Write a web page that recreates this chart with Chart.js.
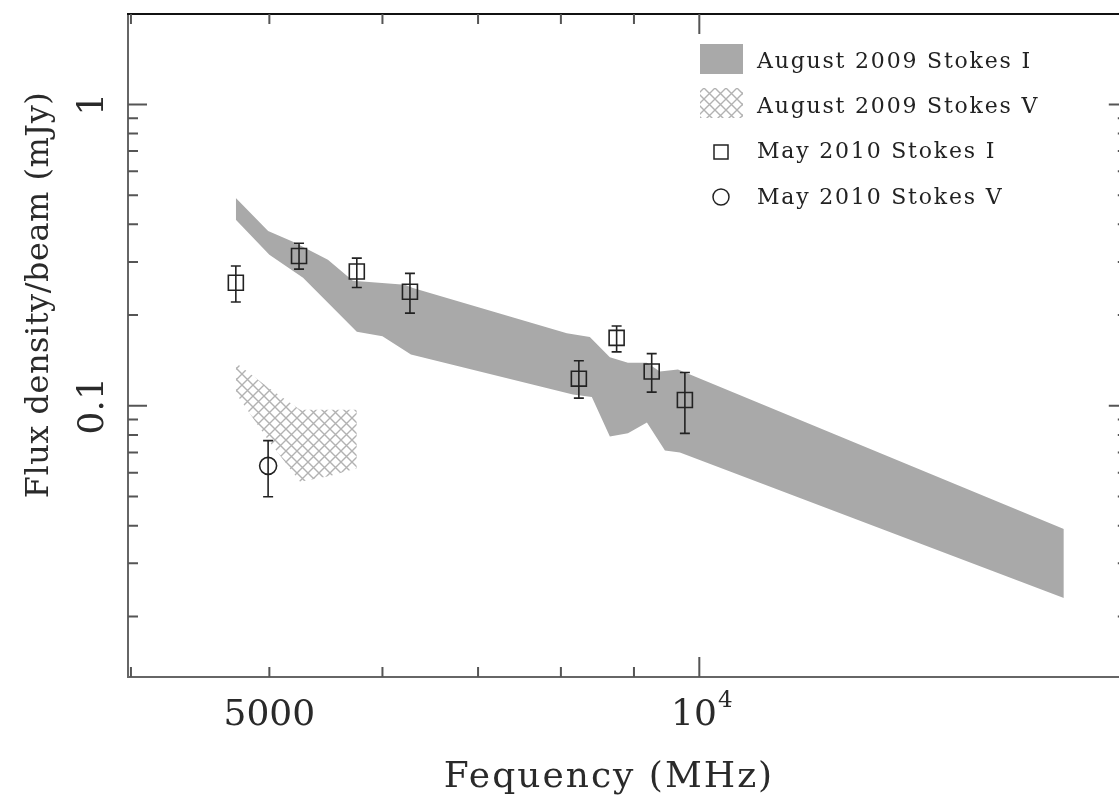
<!DOCTYPE html>
<html>
<head>
<meta charset="utf-8">
<script src="https://cdn.jsdelivr.net/npm/chart.js@4.4.0/dist/chart.umd.min.js"></script>
<style>
  html, body { margin: 0; padding: 0; background: #fff; overflow: hidden; }
  #wrap { width: 1119px; height: 810px; overflow: hidden; }
</style>
</head>
<body>
<div id="wrap"><canvas id="sed" width="1140" height="810"></canvas></div>
<script>
// frequency in MHz, flux density in mJy/beam

// August 2009 Stokes I band (upper and lower edge)
const bandUpperFreq = [4737, 4990, 5194, 5495, 5720, 6221, 6302, 8077, 8382, 8657, 8913, 9190, 9384, 9661, 17997];
const bandUpperFlux = [0.489, 0.380, 0.350, 0.305, 0.260, 0.252, 0.246, 0.174, 0.169, 0.145, 0.139, 0.139, 0.130, 0.132, 0.039];
const bandLowerFreq = [4737, 5000, 5279, 5757, 6000, 6282, 8156, 8409, 8657, 8913, 9190, 9461, 9692, 17997];
const bandLowerFlux = [0.414, 0.317, 0.266, 0.176, 0.170, 0.148, 0.109, 0.107, 0.079, 0.081, 0.088, 0.071, 0.070, 0.023];

// August 2009 Stokes V region
const hatchUpperFreq = [4737, 4990, 5254, 5757];
const hatchUpperFlux = [0.139, 0.115, 0.097, 0.097];
const hatchLowerFreq = [4737, 4990, 5254, 5512, 5757];
const hatchLowerFlux = [0.110, 0.077, 0.056, 0.0585, 0.062];

// May 2010 Stokes I
const mayIFreq = [4737, 5245, 5757, 6272, 8235, 8752, 9261, 9770];
const mayIFlux = [0.256, 0.314, 0.279, 0.239, 0.123, 0.168, 0.130, 0.1045];
const mayIHigh = [0.291, 0.346, 0.309, 0.275, 0.141, 0.184, 0.149, 0.129];
const mayILow = [0.221, 0.284, 0.247, 0.203, 0.106, 0.151, 0.111, 0.081];

// May 2010 Stokes V
const mayVFreq = [4990];
const mayVFlux = [0.0632];
const mayVHigh = [0.0766];
const mayVLow = [0.0499];

const legendLabels = ["August 2009 Stokes I", "August 2009 Stokes V", "May 2010 Stokes I", "May 2010 Stokes V"];

const xMinorTicks = [4000, 5000, 6000, 7000, 8000, 9000];
const xMajorTicks = [10000];
const yMajorTicks = [0.1, 1];
const yMinorTicks = [0.02, 0.03, 0.04, 0.05, 0.06, 0.07, 0.08, 0.09, 0.2, 0.3, 0.4, 0.5, 0.6, 0.7, 0.8, 0.9];
const xTickLabels = [[5000, "5000"], [10000, "10", "4"]];
const yTickLabels = [[0.1, "0.1"], [1, "1"]];
const xTitle = "Fequency (MHz)";
const yTitle = "Flux density/beam (mJy)";

const pts = (xs, ys) => xs.map((x, i) => ({ x: x, y: ys[i] }));

const band = "#a9a9a9";
const ink = "#222";
const serif = '"DejaVu Serif", serif';

function makeHatch() {
  const tile = document.createElement("canvas");
  tile.width = 11;
  tile.height = 11;
  const g = tile.getContext("2d");
  g.strokeStyle = "#b2b2b2";
  g.lineWidth = 1.4;
  g.beginPath();
  g.moveTo(-2, -2); g.lineTo(13, 13);
  g.moveTo(13, -2); g.lineTo(-2, 13);
  g.stroke();
  return g.createPattern(tile, "repeat");
}
const hatch = makeHatch();

const decorations = {
  id: "decorations",
  afterDatasetsDraw(chart) {
    const ctx = chart.ctx;
    const xs = chart.scales.x;
    const ys = chart.scales.y;
    const a = chart.chartArea;

    // error bars
    ctx.save();
    ctx.strokeStyle = ink;
    ctx.lineWidth = 1.6;
    const bars = (fr, hi, lo) => {
      fr.forEach((f, i) => {
        const px = xs.getPixelForValue(f);
        const top = ys.getPixelForValue(hi[i]);
        const bot = ys.getPixelForValue(lo[i]);
        ctx.beginPath();
        ctx.moveTo(px, top); ctx.lineTo(px, bot);
        ctx.moveTo(px - 5, top); ctx.lineTo(px + 5, top);
        ctx.moveTo(px - 5, bot); ctx.lineTo(px + 5, bot);
        ctx.stroke();
      });
    };
    bars(mayIFreq, mayIHigh, mayILow);
    bars(mayVFreq, mayVHigh, mayVLow);
    ctx.restore();

    // frame
    ctx.save();
    ctx.lineWidth = 2;
    ctx.strokeStyle = "#666";
    ctx.beginPath();
    ctx.moveTo(a.left, a.top); ctx.lineTo(a.left, a.bottom); ctx.lineTo(a.right, a.bottom); ctx.lineTo(a.right, a.top);
    ctx.stroke();
    ctx.strokeStyle = "#111";
    ctx.beginPath();
    ctx.moveTo(a.left - 1, a.top); ctx.lineTo(a.right + 1, a.top);
    ctx.stroke();

    // inward ticks on all four sides
    ctx.strokeStyle = "#555";
    const xt = (v, len) => {
      const px = xs.getPixelForValue(v);
      ctx.beginPath();
      ctx.moveTo(px, a.bottom); ctx.lineTo(px, a.bottom - len);
      ctx.moveTo(px, a.top); ctx.lineTo(px, a.top + len);
      ctx.stroke();
    };
    const yt = (v, len) => {
      const py = ys.getPixelForValue(v);
      ctx.beginPath();
      ctx.moveTo(a.left, py); ctx.lineTo(a.left + len, py);
      ctx.moveTo(a.right, py); ctx.lineTo(a.right - len, py);
      ctx.stroke();
    };
    xMinorTicks.forEach((v) => xt(v, 10));
    xMajorTicks.forEach((v) => xt(v, 20));
    yMinorTicks.forEach((v) => yt(v, 10));
    yMajorTicks.forEach((v) => yt(v, 19));
    ctx.restore();

    // tick labels and titles
    ctx.save();
    ctx.fillStyle = "#2a2a2a";
    ctx.font = "36px " + serif;
    ctx.textBaseline = "alphabetic";
    xTickLabels.forEach((t) => {
      const px = xs.getPixelForValue(t[0]);
      if (t.length === 2) {
        ctx.textAlign = "center";
        ctx.fillText(t[1], px, 725);
      } else {
        ctx.font = "36px " + serif;
        const w = ctx.measureText(t[1]).width;
        ctx.font = "23px " + serif;
        const w2 = ctx.measureText(t[2]).width;
        const x0 = px - (w + w2) / 2 + 2;
        ctx.textAlign = "left";
        ctx.font = "36px " + serif;
        ctx.fillText(t[1], x0, 725);
        ctx.font = "23px " + serif;
        ctx.fillText(t[2], x0 + w + 1, 707);
        ctx.font = "36px " + serif;
      }
    });
    yTickLabels.forEach((t) => {
      const py = ys.getPixelForValue(t[0]);
      ctx.save();
      ctx.translate(103, py);
      ctx.rotate(-Math.PI / 2);
      ctx.textAlign = "center";
      ctx.fillText(t[1], 0, 0);
      ctx.restore();
    });
    ctx.letterSpacing = "2px";
    ctx.textAlign = "center";
    ctx.fillText(xTitle, 609, 787);
    ctx.font = "32px " + serif;
    ctx.letterSpacing = "0.5px";
    ctx.save();
    ctx.translate(48, 295);
    ctx.rotate(-Math.PI / 2);
    ctx.fillText(yTitle, 0, 0);
    ctx.restore();
    ctx.restore();

    // legend
    ctx.save();
    ctx.fillStyle = band;
    ctx.fillRect(700, 44, 43, 30);
    ctx.fillStyle = hatch;
    ctx.fillRect(700, 88, 43, 30);
    ctx.strokeStyle = ink;
    ctx.lineWidth = 1.5;
    ctx.strokeRect(714, 145, 14, 14);
    ctx.beginPath();
    ctx.arc(721, 197, 8, 0, Math.PI * 2);
    ctx.stroke();
    ctx.fillStyle = ink;
    ctx.font = "22px " + serif;
    ctx.letterSpacing = "1.8px";
    ctx.textAlign = "left";
    const baselines = [68, 113, 158, 204];
    legendLabels.forEach((lab, i) => ctx.fillText(lab, 757, baselines[i]));
    ctx.restore();
  },
};

new Chart(document.getElementById("sed"), {
  type: "line",
  data: {
    datasets: [
      {
        label: legendLabels[2],
        data: pts(mayIFreq, mayIFlux),
        showLine: false,
        pointStyle: "rect",
        pointRadius: 10.6,
        pointBorderWidth: 1.6,
        pointBorderColor: ink,
        pointBackgroundColor: "rgba(0,0,0,0)",
        order: 0,
      },
      {
        label: legendLabels[3],
        data: pts(mayVFreq, mayVFlux),
        showLine: false,
        pointStyle: "circle",
        pointRadius: 8.5,
        pointBorderWidth: 1.6,
        pointBorderColor: ink,
        pointBackgroundColor: "rgba(0,0,0,0)",
        order: 0,
      },
      {
        label: legendLabels[0],
        data: pts(bandUpperFreq, bandUpperFlux),
        borderColor: "rgba(0,0,0,0)",
        borderWidth: 0,
        backgroundColor: band,
        pointRadius: 0,
        fill: "+1",
        order: 2,
      },
      {
        label: "band lower",
        data: pts(bandLowerFreq, bandLowerFlux),
        borderColor: "rgba(0,0,0,0)",
        borderWidth: 0,
        pointRadius: 0,
        fill: false,
        order: 2,
      },
      {
        label: legendLabels[1],
        data: pts(hatchUpperFreq, hatchUpperFlux),
        borderColor: "rgba(0,0,0,0)",
        borderWidth: 0,
        backgroundColor: hatch,
        pointRadius: 0,
        fill: "+1",
        order: 1,
      },
      {
        label: "hatch lower",
        data: pts(hatchLowerFreq, hatchLowerFlux),
        borderColor: "rgba(0,0,0,0)",
        borderWidth: 0,
        pointRadius: 0,
        fill: false,
        order: 1,
      },
    ],
  },
  options: {
    responsive: false,
    animation: false,
    events: [],
    layout: { padding: { left: 128, top: 14, right: 12, bottom: 133 } },
    elements: { line: { tension: 0 } },
    plugins: {
      legend: { display: false },
      tooltip: { enabled: false },
    },
    scales: {
      x: { type: "logarithmic", min: Math.pow(10, 3.6), max: Math.pow(10, 4.3), display: false },
      y: { type: "logarithmic", min: Math.pow(10, -1.9), max: Math.pow(10, 0.3), display: false },
    },
  },
  plugins: [decorations],
});
</script>
</body>
</html>
